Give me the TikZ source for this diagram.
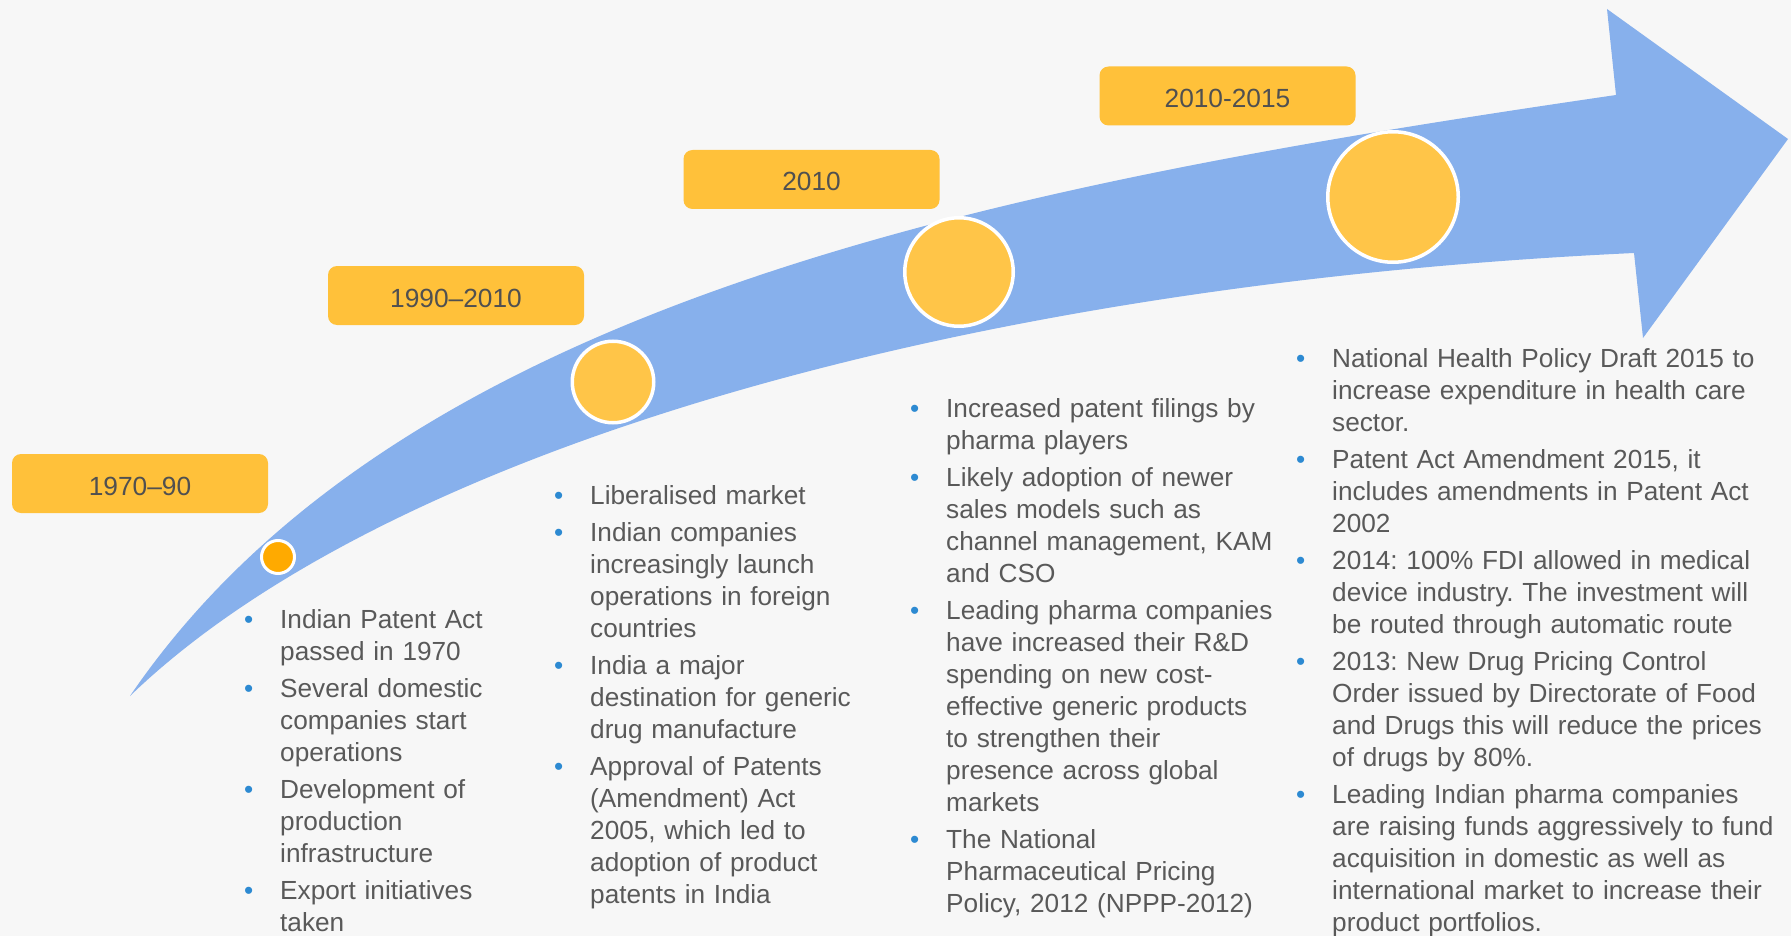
\documentclass[tikz,border=0pt]{standalone}
\usepackage{fontspec}
\setmainfont{Liberation Sans}
\definecolor{bg}{HTML}{F7F7F7}
\definecolor{arrowblue}{HTML}{87B0EC}
\definecolor{boxyellow}{HTML}{FFC13A}
\definecolor{circyellow}{HTML}{FFC548}
\definecolor{circorange}{HTML}{FFAA00}
\definecolor{boxtext}{HTML}{505050}
\definecolor{bodytext}{HTML}{595959}
\definecolor{bulletblue}{HTML}{2D8AD2}
\frenchspacing
\newcommand{\bitem}{\par\noindent\llap{\textcolor{bulletblue}{\char"2022}\hspace{27pt}}\rule{0pt}{22pt}}
\newcommand{\nitem}{\par\vspace{5pt}\bitem}
\begin{document}
\begin{tikzpicture}[x=1pt,y=-1pt,
  yearbox/.style={fill=boxyellow, rounded corners=9pt, minimum width=256pt, minimum height=59pt,
    inner sep=0pt, text height=23pt, text depth=0pt, text=boxtext, font=\fontsize{26.3}{32}\selectfont},
  dotnode/.style={circle, fill=circyellow, draw=white, line width=3.5pt, inner sep=0pt},
  colnode/.style={anchor=north west, inner sep=0pt, align=left, text=bodytext,
    font=\fontsize{26.2}{32}\selectfont\frenchspacing}]
\useasboundingbox[fill=bg] (0,0) rectangle (1791,936);

% arrow
\fill[arrowblue] (130,696) .. controls (400,300) and (1000,185) .. (1616,95)
  -- (1607,9) -- (1788,139) -- (1643,338) -- (1634,253)
  .. controls (950,285) and (380,455) .. (130,696) -- cycle;

% circles
\node[dotnode, fill=circorange, line width=3pt, minimum size=33pt] (c1) at (278,557) {};
\node[dotnode, minimum size=81.5pt] (c2) at (613,382) {};
\node[dotnode, minimum size=108.5pt] (c3) at (959,272) {};
\node[dotnode, minimum size=130.5pt] (c4) at (1393,197) {};

% year boxes
\node[yearbox] (b1) at (140,483.5) {1970–90};
\node[yearbox] (b2) at (456,295.5) {1990–2010};
\node[yearbox] (b3) at (811.5,179.5) {2010};
\node[yearbox] (b4) at (1227.5,96) {2010-2015};

% text columns
\node[colnode, text width=290pt] (t1) at (280,596) {%
\bitem Indian Patent Act\\passed in 1970
\nitem Several domestic\\companies start\\operations
\nitem Development of\\production\\infrastructure
\nitem Export initiatives\\taken\par};

\node[colnode, text width=310pt] (t2) at (590,472) {%
\bitem Liberalised market
\nitem Indian companies\\increasingly launch\\operations in foreign\\countries
\nitem India a major\\destination for generic\\drug manufacture
\nitem Approval of Patents\\(Amendment) Act\\2005, which led to\\adoption of product\\patents in India\par};

\node[colnode, text width=370pt] (t3) at (946,385) {%
\bitem Increased patent filings by\\pharma players
\nitem Likely adoption of newer\\sales models such as\\channel management, KAM\\and CSO
\nitem Leading pharma companies\\have increased their R\&D\\spending on new cost-\\effective generic products\\to strengthen their\\presence across global\\markets
\nitem The National\\Pharmaceutical Pricing\\Policy, 2012 (NPPP-2012)\par};

\node[colnode, text width=455pt] (t4) at (1332,335) {%
\bitem National Health Policy Draft 2015 to\\increase expenditure in health care\\sector.
\nitem Patent Act Amendment 2015, it\\includes amendments in Patent Act\\2002
\nitem 2014: 100\% FDI allowed in medical\\device industry. The investment will\\be routed through automatic route
\nitem 2013: New Drug Pricing Control\\Order issued by Directorate of Food\\and Drugs this will reduce the prices\\of drugs by 80\%.
\nitem Leading Indian pharma companies\\are raising funds aggressively to fund\\acquisition in domestic as well as\\international market to increase their\\product portfolios.\par};
\end{tikzpicture}
\end{document}
